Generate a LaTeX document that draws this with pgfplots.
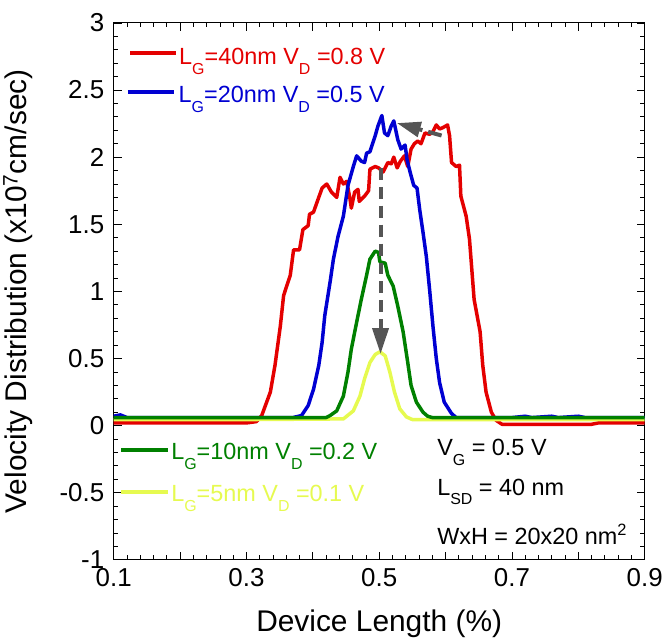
\documentclass[border=0pt]{standalone}
\usepackage{fontspec}
\setmainfont{Liberation Sans}
\usepackage{pgfplots}
\pgfplotsset{compat=1.18}
\usetikzlibrary{arrows.meta}

\definecolor{cred}{RGB}{228,0,0}
\definecolor{cblue}{RGB}{0,0,210}
\definecolor{cgreen}{RGB}{0,128,0}
\definecolor{cyel}{RGB}{230,250,80}
\definecolor{cgray}{RGB}{85,85,85}

\newcommand{\sub}[1]{\raisebox{-0.42em}{\fontsize{16bp}{16bp}\selectfont #1}}
\newcommand{\lfont}{\fontsize{23.5bp}{28bp}\selectfont}

\begin{document}
\begin{tikzpicture}
\begin{axis}[
  width=533bp, height=539bp, scale only axis,
  xmin=0.1, xmax=0.9, ymin=-1, ymax=3,
  xtick={0.1,0.2,0.3,0.4,0.5,0.6,0.7,0.8,0.9},
  xticklabels={0.1,,0.3,,0.5,,0.7,,0.9},
  ytick={-1,-0.5,0,0.5,1,1.5,2,2.5,3},
  minor x tick num=4, minor y tick num=4,
  tick align=inside,
  major tick length=8bp, minor tick length=4.5bp,
  tick style={black, line width=0.8bp},
  axis line style={line width=1bp},
  /pgf/number format/assume math mode=true,
  tick label style={font=\fontsize{26bp}{30bp}\selectfont},
  xticklabel style={yshift=-5bp},
  yticklabel style={xshift=-6bp},
  label style={font=\fontsize{30bp}{34bp}\selectfont},
  xlabel={Device Length (\%)},
  ylabel={Velocity Distribution (x10\textsuperscript{7}cm/sec)},
  xlabel shift=16bp,
  ylabel shift=20bp,
  every axis plot/.append style={line width=3.5bp, line join=round},
]
% L_G = 40 nm
\addplot[cred] coordinates {
(0.100,0.02)(0.200,0.02)(0.300,0.02)(0.315,0.03)(0.323,0.075)(0.336,0.25)
(0.343,0.45)(0.351,0.74)(0.356,0.97)(0.366,1.12)(0.371,1.31)(0.380,1.31)
(0.385,1.46)(0.393,1.49)(0.395,1.575)(0.401,1.59)(0.406,1.66)(0.414,1.77)
(0.421,1.80)(0.428,1.74)(0.436,1.70)(0.441,1.85)(0.446,1.80)(0.451,1.82)
(0.456,1.69)(0.458,1.62)(0.463,1.74)(0.468,1.76)(0.470,1.67)(0.478,1.71)
(0.484,1.75)(0.486,1.91)(0.494,1.93)(0.499,1.92)(0.506,1.89)(0.513,1.96)
(0.518,1.95)(0.522,2.00)(0.527,1.92)(0.532,1.97)(0.538,2.01)(0.543,1.93)
(0.548,2.06)(0.553,2.10)(0.558,2.12)(0.563,2.10)(0.569,2.18)(0.576,2.17)
(0.581,2.19)(0.586,2.24)(0.591,2.21)(0.596,2.22)(0.603,2.24)(0.606,2.16)
(0.609,1.96)(0.616,1.93)(0.621,1.94)(0.623,1.71)(0.631,1.56)(0.636,1.39)
(0.643,0.94)(0.652,0.70)(0.656,0.45)(0.661,0.25)(0.669,0.10)(0.676,0.04)
(0.685,0.01)(0.750,0.01)(0.820,0.01)(0.830,0.02)(0.900,0.02)};
% L_G = 20 nm
\addplot[cblue] coordinates {
(0.100,0.07)(0.110,0.08)(0.120,0.06)(0.200,0.06)(0.370,0.06)(0.383,0.075)
(0.393,0.15)(0.401,0.27)(0.409,0.45)(0.414,0.62)(0.418,0.82)(0.426,1.07)
(0.431,1.24)(0.438,1.41)(0.446,1.56)(0.453,1.79)(0.461,1.93)(0.466,2.01)
(0.473,1.97)(0.478,1.96)(0.481,2.03)(0.486,2.04)(0.494,2.16)(0.498,2.23)
(0.504,2.31)(0.508,2.18)(0.513,2.16)(0.518,2.23)(0.522,2.27)(0.528,2.13)
(0.533,2.06)(0.539,2.09)(0.542,1.98)(0.547,1.88)(0.552,1.79)(0.557,1.77)
(0.561,1.61)(0.566,1.44)(0.571,1.26)(0.576,1.01)(0.581,0.74)(0.586,0.50)
(0.591,0.32)(0.598,0.175)(0.609,0.09)(0.616,0.06)(0.700,0.06)(0.720,0.07)
(0.730,0.06)(0.760,0.07)(0.770,0.06)(0.800,0.07)(0.810,0.06)(0.900,0.06)};
% L_G = 5 nm
\addplot[cyel] coordinates {
(0.100,0.045)(0.300,0.045)(0.446,0.05)(0.461,0.11)(0.471,0.22)(0.478,0.35)
(0.486,0.47)(0.494,0.53)(0.501,0.55)(0.509,0.52)(0.516,0.40)(0.523,0.25)
(0.531,0.125)(0.541,0.065)(0.550,0.045)(0.700,0.045)(0.900,0.045)};
% L_G = 10 nm
\addplot[cgreen] coordinates {
(0.100,0.06)(0.300,0.06)(0.420,0.06)(0.426,0.075)(0.436,0.11)(0.446,0.22)
(0.453,0.40)(0.458,0.57)(0.466,0.77)(0.473,0.94)(0.481,1.12)(0.486,1.24)
(0.494,1.30)(0.499,1.29)(0.501,1.22)(0.509,1.21)(0.513,1.12)(0.521,1.04)
(0.528,0.89)(0.536,0.70)(0.543,0.47)(0.548,0.30)(0.556,0.175)(0.566,0.10)
(0.573,0.07)(0.580,0.06)(0.700,0.06)(0.900,0.06)};

% arrows
\draw[cgray, line width=4bp, dash pattern=on 12bp off 7bp,
  -{Triangle[width=16bp,length=26bp]}]
  (axis cs:0.502,1.92) -- (axis cs:0.502,0.534);
\draw[cgray, line width=4bp, dash pattern=on 14bp off 6bp,
  -{Triangle[width=15bp,length=24bp]}]
  (axis cs:0.594,2.161) -- (axis cs:0.5265,2.254);

% legends
\draw[cred, line width=4bp] (rel axis cs:0.031,0.9432) -- (rel axis cs:0.117,0.9432);
\node[anchor=base west, inner sep=0, text=cred, font=\lfont]
  at (rel axis cs:0.123,0.9228) {L\sub{G}=40nm V\sub{D} =0.8 V};
\draw[cblue, line width=4bp] (rel axis cs:0.026,0.872) -- (rel axis cs:0.114,0.872);
\node[anchor=base west, inner sep=0, text=cblue, font=\lfont]
  at (rel axis cs:0.122,0.8516) {L\sub{G}=20nm V\sub{D} =0.5 V};
\draw[cgreen, line width=4bp] (rel axis cs:0.014,0.2054) -- (rel axis cs:0.102,0.2054);
\node[anchor=base west, inner sep=0, text=cgreen, font=\lfont]
  at (rel axis cs:0.108,0.1868) {L\sub{G}=10nm V\sub{D} =0.2 V};
\draw[cyel, line width=4bp] (rel axis cs:0.014,0.1269) -- (rel axis cs:0.102,0.1269);
\node[anchor=base west, inner sep=0, text=cyel, font=\lfont]
  at (rel axis cs:0.108,0.1089) {L\sub{G}=5nm V\sub{D} =0.1 V};

% conditions
\node[anchor=base west, inner sep=0, font=\lfont]
  at (rel axis cs:0.609,0.1937) {V\sub{G} = 0.5 V};
\node[anchor=base west, inner sep=0, font=\lfont]
  at (rel axis cs:0.609,0.1206) {L\sub{SD} = 40 nm};
\node[anchor=base west, inner sep=0, font=\lfont]
  at (rel axis cs:0.609,0.0278) {WxH = 20x20 nm\textsuperscript{2}};

\coordinate (topleft) at (rel axis cs:0,1);
\end{axis}
\path (topleft) ++(0,23bp);
\end{tikzpicture}
\end{document}
